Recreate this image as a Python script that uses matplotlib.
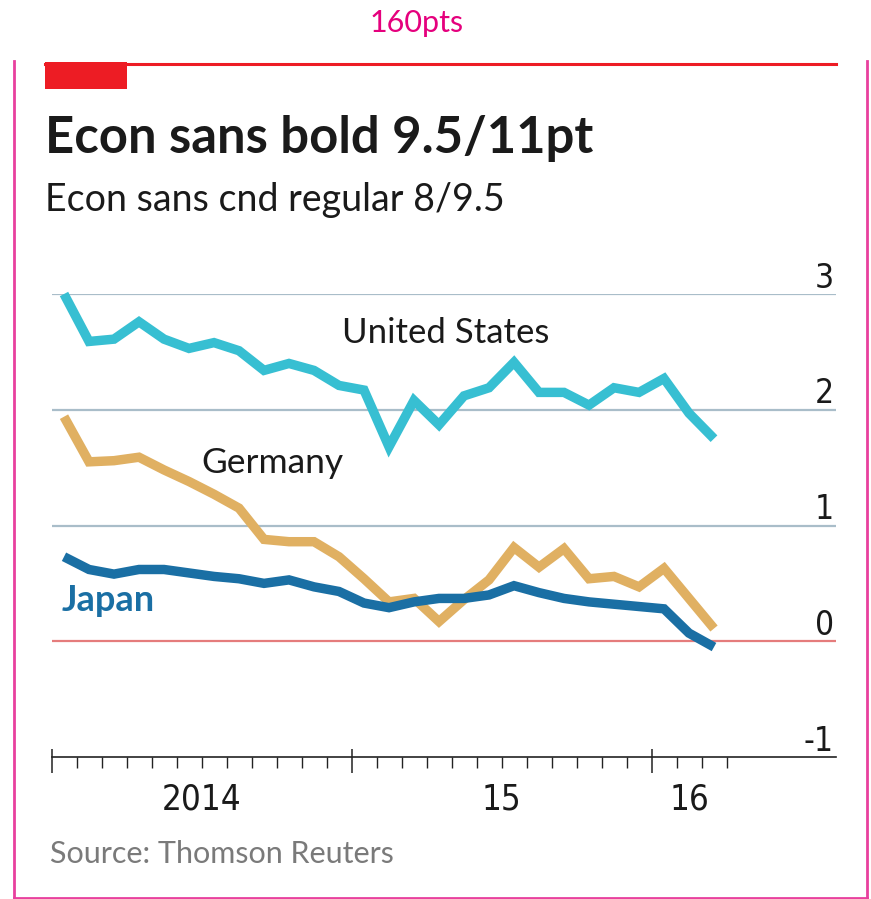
"""Economist-style chart template: 10-year bond yields, US / Germany / Japan."""

import numpy as np
import matplotlib
matplotlib.use('Agg')
import matplotlib.pyplot as plt
from matplotlib.lines import Line2D
from matplotlib.patches import Rectangle

W, H = 871, 899

# monthly readings, Jan 2014 .. Mar 2016
united_states = [3.00, 2.59, 2.61, 2.76, 2.61, 2.53, 2.58, 2.51, 2.34, 2.40, 2.34, 2.21,
                 2.17, 1.68, 2.08, 1.87, 2.12, 2.19, 2.41, 2.15, 2.15, 2.04, 2.19, 2.15,
                 2.27, 1.97, 1.75]
germany       = [1.94, 1.55, 1.56, 1.59, 1.48, 1.38, 1.27, 1.15, 0.88, 0.86, 0.86, 0.73,
                 0.54, 0.34, 0.37, 0.17, 0.36, 0.53, 0.81, 0.64, 0.80, 0.54, 0.56, 0.47,
                 0.63, 0.37, 0.11]
japan         = [0.73, 0.62, 0.58, 0.62, 0.62, 0.59, 0.56, 0.54, 0.50, 0.53, 0.47, 0.43,
                 0.33, 0.29, 0.34, 0.37, 0.37, 0.40, 0.48, 0.42, 0.37, 0.34, 0.32, 0.30,
                 0.28, 0.07, -0.05]

y_ticks      = [-1, 0, 1, 2, 3]
year_labels  = ['2014', '15', '16']
year_centres = [6, 18, 25.5]
year_starts  = [0, 12, 24]
month_ticks  = list(range(1, 28))

C_US    = '#37BFD2'
C_DE    = '#E0B062'
C_JP    = '#1A6FA4'
C_GRID  = '#A9BDC9'
C_ZERO  = '#E57C7C'
C_RED   = '#ED1C24'
C_PINK  = '#E8409E'
C_TEXT  = '#1A1A1A'
C_AXIS  = '#222222'

HUM  = ['Lato', 'DejaVu Sans']
COND = dict(family='DejaVu Sans', fontstretch='condensed')

fig = plt.figure(figsize=(W / 100, H / 100), dpi=100)


def fx(px):
    return px / W


def fy(py):
    return 1 - py / H


# frame + red header bar
for xs, ys in [((14, 14), (61, 897.5)), ((867, 867), (61, 897.5)), ((14, 867), (897.5, 897.5))]:
    fig.add_artist(Line2D([fx(x) for x in xs], [fy(y) for y in ys], color=C_PINK, lw=2))
fig.add_artist(Line2D([fx(45), fx(836)], [fy(63.5), fy(63.5)], color=C_RED, lw=2.2))
fig.add_artist(Rectangle((fx(45), fy(89)), fx(82), 27 / H, color=C_RED, lw=0))

fig.text(fx(417), fy(32), '160pts', color='#E5007D', fontsize=22, family=HUM,
         ha='center', va='baseline')
fig.text(fx(45), fy(153), 'Econ sans bold 9.5/11pt', color=C_TEXT, fontsize=36.5,
         fontweight='bold', family=HUM, va='baseline')
fig.text(fx(45), fy(211), 'Econ sans cnd regular 8/9.5', color=C_TEXT, fontsize=27,
         family=HUM, va='baseline')
fig.text(fx(50), fy(863), 'Source: Thomson Reuters', color='#7A7A7A', fontsize=22,
         family=HUM, va='baseline')

# plot area: x from 51.5 to 836 px, value 3 at 294 px, -1 at 757 px
ax = fig.add_axes([fx(51.5), fy(757), (836 - 51.5) / W, (757 - 294) / H])
ax.set_xlim(0, (836 - 51.5) / 25)
ax.set_ylim(-1, 3)
ax.patch.set_visible(False)

for v in y_ticks[1:]:
    ax.axhline(v, color=C_ZERO if v == 0 else C_GRID, lw=1.6, zorder=1)

for v in y_ticks:
    ax.annotate(str(v), xy=(0.997, v), xycoords=('axes fraction', 'data'),
                xytext=(0, 4.5), textcoords='offset points', ha='right', va='baseline',
                fontsize=24, color=C_TEXT, **COND)

x = np.arange(len(united_states)) + 0.5
for series, col in [(united_states, C_US), (germany, C_DE), (japan, C_JP)]:
    ax.plot(x, series, color=col, lw=6.8, solid_joinstyle='miter', solid_capstyle='butt',
            clip_on=False, zorder=3)

ax.text(15.78, 2.66, 'United States', fontsize=25, family=HUM, color=C_TEXT,
        ha='center', va='center')
ax.text(8.82, 1.54, 'Germany', fontsize=25.5, family=HUM, color=C_TEXT,
        ha='center', va='center')
ax.text(0.42, 0.35, 'Japan', fontsize=26, family=HUM, fontweight='bold', color=C_JP,
        ha='left', va='center')

for s in ['top', 'right', 'left']:
    ax.spines[s].set_visible(False)
ax.spines['bottom'].set_color(C_AXIS)
ax.spines['bottom'].set_linewidth(1.2)
ax.set_yticks([])
ax.set_xticks(year_starts)
ax.set_xticklabels([])
ax.set_xticks(month_ticks, minor=True)
ax.tick_params(axis='x', which='major', direction='out', length=11.5, width=1.1, color=C_AXIS)
ax.tick_params(axis='x', which='minor', direction='out', length=8, width=1.0, color=C_AXIS)

# short upward stubs on the year ticks
top = ax.secondary_xaxis(0)
top.spines['bottom'].set_visible(False)
top.set_xticks(year_starts)
top.set_xticklabels([])
top.tick_params(axis='x', direction='in', length=6, width=1.1, color=C_AXIS)

for lab, c in zip(year_labels, year_centres):
    ax.annotate(lab, xy=(c, 0), xycoords=('data', 'axes fraction'), xytext=(0, -38),
                textcoords='offset points', ha='center', va='baseline',
                fontsize=25, color=C_TEXT, **COND)

fig.savefig('out.png', dpi=100, facecolor='white')
